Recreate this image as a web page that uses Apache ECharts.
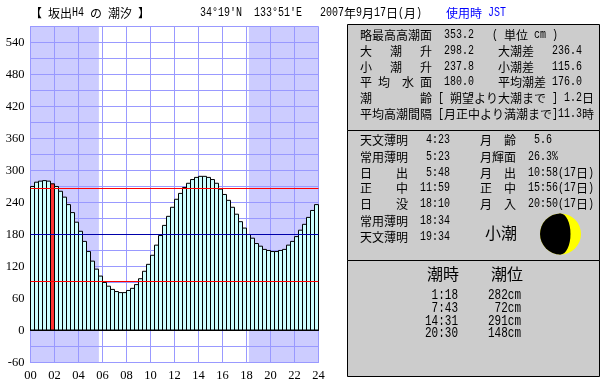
<!DOCTYPE html>
<html>
<head>
<meta charset="utf-8">
<style>
html, body { margin: 0; padding: 0; background: #fff; }
#chart { width: 610px; height: 385px; }
</style>
<script src="https://cdn.jsdelivr.net/npm/echarts@6/dist/echarts.min.js"></script>
</head>
<body>
<div id="chart"></div>
<script>
// tide height in cm, one bar every 20 minutes
const tideLevels = [
  271, 279, 281, 282, 281, 276, 271, 262, 251, 237, 222, 204,
  187, 168, 149, 131, 116, 103, 91, 84, 78, 74, 72, 72,
  76, 80, 87, 98, 112, 125, 142, 161, 179, 198, 215, 232,
  247, 258, 269, 277, 284, 288, 290, 290, 288, 284, 277, 266,
  256, 245, 232, 219, 205, 193, 181, 174, 164, 159, 153, 151,
  149, 149, 151, 153, 161, 168, 177, 189, 200, 213, 226, 237
]
const barLabels = tideLevels.map((_, i) => String(i))
const currentBar = 5

// night hours
const nightRanges = [[0, 5.7], [18.2, 24]]
const highLine = 266
const meanLine = 180
const lowLine = 92

const titleParts = ['【 坂出H4 の 潮汐 】', "34°19'N", "133°51'E", '2007年9月17日(月)']
const zoneLabel = '使用時 JST'

const harmonicRows = [
  '略最高高潮面  353.2   ( 単位 cm )',
  '大   潮   升  298.2    大潮差   236.4',
  '小   潮   升  237.8    小潮差   115.6',
  '平 均  水 面  180.0    平均潮差 176.0',
  '潮        齢 [ 朔望より大潮まで ] 1.2日',
  '平均高潮間隔 [月正中より満潮まで]11.3時'
]
const sunMoonRows = [
  '天文薄明   4:23     月  齢   5.6',
  '常用薄明   5:23     月輝面  26.3%',
  '日    出   5:48     月  出  10:58(17日)',
  '正    中  11:59     正  中  15:56(17日)',
  '日    没  18:10     月  入  20:50(17日)',
  '常用薄明  18:34',
  '天文薄明  19:34'
]
const tideName = '小潮'
const tideHeads = ['潮時', '潮位']
const tideTimes = [' 1:18', ' 7:43', '14:31', '20:30']
const tideHeights = ['282cm', ' 72cm', '291cm', '148cm']

const chart = echarts.init(document.getElementById('chart'), null, { renderer: 'canvas' })

// the source font has half width latin and full width kanji, so lay runs out on that grid
function textRuns(str, x, y, opts) {
  const o = Object.assign({ cell: 6, latin: 10, kanji: 12, fill: '#000' }, opts)
  const out = []
  let pos = x
  str.match(/[\u0000-\u00ff]+|[^\u0000-\u00ff]+/g).forEach((run) => {
    const isLatin = run.charCodeAt(0) < 256
    if (run.trim()) {
      out.push({
        type: 'text',
        x: pos,
        y: y,
        scaleY: isLatin ? 1.3 : 1,
        z: 10,
        silent: true,
        style: {
          text: run,
          fill: o.fill,
          font: isLatin ? o.latin + 'px "Liberation Mono"' : o.kanji + 'px "Noto Sans CJK JP"',
          verticalAlign: 'middle'
        }
      })
    }
    pos += isLatin ? run.length * o.cell : run.length * o.kanji
  })
  return out
}

function panel(y, height) {
  return {
    type: 'rect',
    z: 5,
    silent: true,
    shape: { x: 347.5, y: y, width: 252, height: height },
    style: { fill: '#cccccc', stroke: '#000', lineWidth: 1 }
  }
}

const harmonicY = [35, 51, 67, 82, 98, 114]
const sunMoonY = [140, 157, 173, 188, 204, 221, 237]
const tideY = [295, 308, 321, 333]

const graphics = [panel(24.5, 106), panel(130.5, 130), panel(260.5, 116)]
graphics.push(...textRuns(titleParts[0], 30, 13))
graphics.push(...textRuns(titleParts[1], 200, 13))
graphics.push(...textRuns(titleParts[2], 254, 13))
graphics.push(...textRuns(titleParts[3], 320, 13))
graphics.push(...textRuns(zoneLabel, 446, 13, { fill: '#0000ff' }))
harmonicRows.forEach((r, i) => graphics.push(...textRuns(r, 360, harmonicY[i])))
sunMoonRows.forEach((r, i) => graphics.push(...textRuns(r, 360, sunMoonY[i])))
graphics.push(...textRuns(tideName, 485, 233, { kanji: 16 }))
graphics.push(...textRuns(tideHeads[0], 427, 274, { kanji: 16 }))
graphics.push(...textRuns(tideHeads[1], 491, 274, { kanji: 16 }))
tideTimes.forEach((t, i) => graphics.push(...textRuns(t, 425, tideY[i], { cell: 6.6, latin: 11 })))
tideHeights.forEach((t, i) => graphics.push(...textRuns(t, 488, tideY[i], { cell: 6.6, latin: 11 })))

// moon
graphics.push({ type: 'circle', z: 6, silent: true, shape: { cx: 560.5, cy: 234, r: 20.5 }, style: { fill: '#ffff00' } })
graphics.push({
  type: 'sector', z: 7, silent: true,
  shape: { cx: 560.5, cy: 234, r: 20.5, r0: 0, startAngle: Math.PI / 2, endAngle: Math.PI * 1.5 },
  style: { fill: '#000' }
})
graphics.push({ type: 'ellipse', z: 7, silent: true, shape: { cx: 560.5, cy: 234, rx: 10, ry: 20.5 }, style: { fill: '#000' } })

const axisFont = { fontFamily: '"Liberation Sans Narrow"', fontSize: 12.5, color: '#000' }
const gridLine = { show: true, lineStyle: { color: '#9999ff', width: 1, type: 'solid' } }

const option = {
  animation: false,
  backgroundColor: '#fff',
  grid: { left: 30.5, top: 26.5, width: 288, height: 336, containLabel: false },
  graphic: graphics,
  xAxis: [
    {
      type: 'value',
      min: 0,
      max: 24,
      interval: 2,
      position: 'bottom',
      z: 2,
      axisLine: { show: true, onZero: false, lineStyle: { color: '#9999ff', width: 1 } },
      axisTick: { show: false },
      axisLabel: {
        ...axisFont,
        margin: 7,
        hideOverlap: false,
        formatter: (v) => (v < 10 ? '0' + v : String(v))
      },
      splitLine: gridLine
    },
    {
      type: 'category',
      data: barLabels,
      position: 'bottom',
      z: 4,
      axisLine: { show: true, onZero: true, lineStyle: { color: '#000', width: 1 } },
      axisTick: { show: false },
      axisLabel: { show: false },
      splitLine: { show: false }
    }
  ],
  yAxis: {
    type: 'value',
    min: -60,
    max: 570,
    interval: 30,
    z: 2,
    axisLine: { show: true, onZero: false, lineStyle: { color: '#9999ff', width: 1 } },
    axisTick: { show: false },
    axisLabel: {
      ...axisFont,
      margin: 6,
      padding: [3, 0, 0, 0],
      formatter: (v) => (v % 60 === 0 ? String(v) : '')
    },
    splitLine: gridLine
  },
  series: [
    {
      // night shading, sits under the grid lines
      type: 'line',
      xAxisIndex: 0,
      data: [],
      z: 0,
      silent: true,
      markArea: {
        silent: true,
        z: 0,
        itemStyle: { color: '#ccccff', opacity: 1 },
        data: nightRanges.map((r) => [{ xAxis: r[0] }, { xAxis: r[1] }])
      }
    },
    {
      // echarts keeps the border inside the bar, 5px on a 4px pitch makes neighbours share one line
      type: 'bar',
      xAxisIndex: 1,
      barWidth: 5,
      z: 3,
      silent: true,
      itemStyle: { color: '#ccffff', borderColor: '#000', borderWidth: 1 },
      data: tideLevels.map((v, i) =>
        i === currentBar ? { value: v, itemStyle: { color: '#ff3333' } } : v
      )
    },
    {
      type: 'line',
      xAxisIndex: 0,
      data: [],
      z: 5,
      silent: true,
      markLine: {
        silent: true,
        symbol: 'none',
        label: { show: false },
        data: [
          { yAxis: highLine, lineStyle: { color: '#ff0000', width: 1, type: 'solid' } },
          { yAxis: meanLine, lineStyle: { color: '#0000aa', width: 1, type: 'solid' } },
          { yAxis: lowLine, lineStyle: { color: '#ff0000', width: 1, type: 'solid' } }
        ]
      }
    }
  ]
}

chart.setOption(option)
</script>
</body>
</html>
